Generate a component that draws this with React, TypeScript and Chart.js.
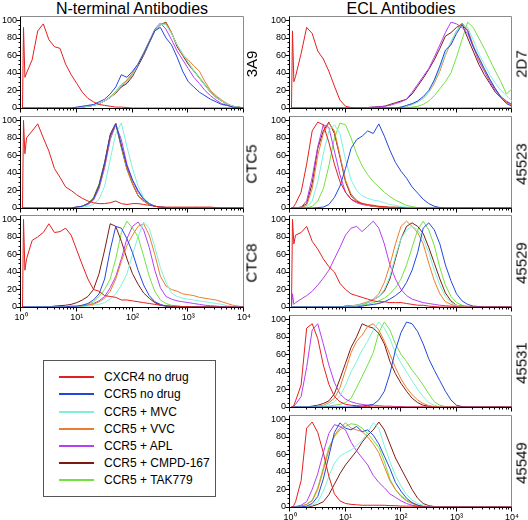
import React, { useEffect, useRef } from "react";
import { Chart, registerables } from "chart.js";

Chart.register(...registerables);

const FONT = '"Liberation Sans", Arial, Helvetica, sans-serif';

// x positions in log10 units (10^0 .. 10^4)
const LOG_X = [0.027, 0.045, 0.07, 0.1, 0.2, 0.3, 0.4, 0.5, 0.6, 0.7, 0.8, 0.9, 1, 1.1, 1.2, 1.3, 1.4, 1.5, 1.6, 1.7, 1.8, 1.9, 2, 2.1, 2.2, 2.3, 2.4, 2.5, 2.6, 2.7, 2.8, 2.9, 3, 3.1, 3.2, 3.3, 3.4, 3.5, 3.6, 3.7, 3.8, 3.9, 4];

const SERIES_NAMES = ["CXCR4 no drug", "CCR5 no drug", "CCR5 + MVC", "CCR5 + VVC", "CCR5 + APL", "CCR5 + CMPD-167", "CCR5 + TAK779"];
const SERIES_COLORS = ["#e3201f", "#2347de", "#7cf2dc", "#ec7d2c", "#b53ff2", "#7b1b12", "#72e23e"];

const X_TICK_VALUES = [0, 1, 2, 3, 4];
const X_TICK_LABELS = ["10\u2070", "10\u00b9", "10\u00b2", "10\u00b3", "10\u2074"];
const Y_TICK_VALUES = [0, 20, 40, 60, 80, 100];
const Y_MINOR_STEP = 5;
const Y_MAX = 105;

const COLUMN_TITLES = ["N-terminal Antibodies", "ECL Antibodies"];
const LEFT_PANEL_NAMES = ["3A9", "CTC5", "CTC8"];
const RIGHT_PANEL_NAMES = ["2D7", "45523", "45529", "45531", "45549"];

// series order: CXCR4, CCR5, MVC, VVC, APL, CMPD-167, TAK779
const H_3A9 = [
  [0, 92, 35, 40, 55, 88, 96, 78, 70, 68, 50, 38, 28, 18, 11, 7, 4, 3, 2, 1, 1, 0.5],
  [0, 0, 0, 0, 0, 0, 0, 0, 0, 0, 0, 0, 1, 2, 3, 4, 7, 10, 16, 24, 38, 35, 42, 50, 62, 75, 88, 92, 80, 72, 58, 42, 30, 24, 18, 14, 10, 7, 4, 3, 1, 0.5],
  [0, 0, 0, 0, 0, 0, 0, 0, 0, 0, 0, 0, 0.5, 1, 2, 3, 5, 8, 12, 18, 26, 30, 38, 50, 62, 75, 88, 96, 95, 85, 72, 62, 52, 42, 34, 26, 18, 12, 8, 4, 2, 1],
  [0, 0, 0, 0, 0, 0, 0, 0, 0, 0, 0, 0, 0.5, 1, 2, 3, 5, 8, 12, 18, 26, 32, 40, 50, 63, 76, 88, 95, 97, 86, 72, 60, 55, 48, 42, 30, 20, 14, 9, 5, 2, 1],
  [0, 0, 0, 0, 0, 0, 0, 0, 0, 0, 0, 0, 0.5, 1, 2, 3, 5, 8, 12, 18, 25, 30, 38, 50, 62, 76, 90, 97, 90, 78, 65, 55, 45, 35, 28, 20, 14, 9, 5, 3, 1, 0.5],
  [0, 0, 0, 0, 0, 0, 0, 0, 0, 0, 0, 0, 0.5, 1, 2, 3, 5, 8, 12, 17, 24, 28, 36, 48, 60, 74, 88, 95, 98, 86, 70, 60, 50, 42, 34, 26, 18, 12, 8, 4, 2, 1],
  [0, 0, 0, 0, 0, 0, 0, 0, 0, 0, 0, 0, 0.5, 1, 2, 3, 5, 8, 13, 19, 27, 31, 39, 51, 63, 76, 89, 96, 96, 85, 72, 62, 52, 43, 35, 27, 19, 13, 8, 4, 2, 1],
];

const H_CTC5 = [
  [0, 100, 62, 80, 88, 96, 80, 65, 45, 35, 24, 20, 15, 11, 8, 6, 5, 5, 6, 8, 5, 4, 5, 5, 4, 3, 2, 1, 1, 1, 1, 1, 1, 1, 1, 1, 1, 0.5],
  [0, 0, 0, 0, 0, 0, 0, 0, 0, 0, 0, 0, 1, 2, 5, 10, 25, 50, 82, 96, 72, 48, 32, 20, 10, 5, 2, 1, 0.5],
  [0, 0, 0, 0, 0, 0, 0, 0, 0, 0, 0, 0, 0.5, 1, 2, 4, 10, 25, 55, 85, 97, 70, 45, 25, 12, 5, 2, 1, 0.5],
  [0, 0, 0, 0, 0, 0, 0, 0, 0, 0, 0, 0, 1, 2, 5, 10, 24, 48, 80, 97, 70, 44, 28, 14, 8, 4, 2, 1, 0.5],
  [0, 0, 0, 0, 0, 0, 0, 0, 0, 0, 0, 0, 1, 2, 4, 9, 22, 46, 78, 95, 78, 50, 32, 18, 10, 5, 2, 1, 0.5],
  [0, 0, 0, 0, 0, 0, 0, 0, 0, 0, 0, 0, 1, 2, 5, 11, 26, 52, 84, 97, 70, 45, 28, 14, 8, 4, 2, 1, 0.5],
  [0, 0, 0, 0, 0, 0, 0, 0, 0, 0, 0, 0, 1, 2, 5, 12, 28, 52, 82, 95, 68, 44, 27, 14, 8, 4, 2, 1, 0.5],
];

const H_CTC8 = [
  [0, 100, 42, 55, 76, 80, 85, 95, 85, 86, 90, 82, 65, 48, 32, 20, 18, 13, 12, 11, 8, 8, 7, 6, 5, 4, 3, 2, 1.5, 1, 1, 0.5, 0.5],
  [0, 0, 0, 0, 0, 0, 0, 0, 0, 0, 0, 1, 1, 2, 4, 8, 15, 32, 65, 92, 90, 78, 62, 42, 25, 13, 6, 3, 1, 0.5],
  [0, 0, 0, 0, 0, 0, 0, 0, 0, 0, 0, 0, 0, 0, 1, 2, 3, 5, 9, 15, 25, 38, 60, 80, 97, 90, 68, 45, 28, 16, 12, 10, 9, 8, 7, 6, 5, 4, 3, 1.5, 1, 0.5],
  [0, 0, 0, 0, 0, 0, 0, 0, 0, 0, 0, 0, 0, 1, 2, 3, 6, 10, 18, 32, 52, 70, 82, 92, 95, 82, 60, 35, 24, 20, 18, 15, 14, 13, 11, 10, 9, 8, 6, 4, 2, 1],
  [0, 0, 0, 0, 0, 0, 0, 0, 0, 0, 0, 0, 0.5, 1, 2, 4, 7, 12, 22, 35, 55, 78, 92, 97, 88, 68, 42, 22, 12, 9, 7, 6, 5, 4, 3, 2, 1.5, 1, 0.5],
  [0, 0, 0, 0, 0, 0, 0, 0, 1, 1.5, 2, 3, 5, 8, 12, 20, 38, 65, 95, 92, 75, 55, 38, 26, 16, 10, 5, 2, 1, 0.5],
  [0, 0, 0, 0, 0, 0, 0, 0, 0, 0, 0, 0, 1, 2, 3, 6, 12, 20, 32, 55, 85, 98, 90, 80, 58, 35, 18, 8, 4, 2, 1, 0.5],
];

const H_2D7 = [
  [0, 88, 30, 36, 62, 92, 85, 65, 56, 42, 25, 9, 2, 0.5],
  [0, 0, 0, 0, 0, 0, 0, 0, 0, 0, 0, 0, 0, 0, 0, 0, 0, 0, 0, 0, 0, 0, 1, 3, 5, 8, 13, 20, 32, 48, 66, 72, 85, 95, 88, 70, 58, 45, 33, 22, 12, 5, 2],
  [0, 0, 0, 0, 0, 0, 0, 0, 0, 0, 0, 0, 0, 0, 0, 0, 0, 0, 0, 0, 0, 0, 1, 2, 4, 7, 11, 18, 30, 45, 62, 76, 88, 95, 92, 78, 62, 50, 38, 28, 20, 14, 8],
  [0, 0, 0, 0, 0, 0, 0, 0, 0, 0, 0, 0, 0, 0, 0, 0, 0, 0, 0, 0, 0, 0, 1, 2, 4, 7, 11, 18, 28, 42, 60, 75, 88, 97, 90, 72, 56, 44, 32, 22, 13, 6, 3],
  [0, 0, 0, 0, 0, 0, 0, 0, 0, 0, 0, 0, 0, 0, 0, 0, 0.5, 1, 1, 2, 3, 5, 7, 10, 18, 27, 36, 45, 58, 72, 86, 98, 96, 92, 85, 70, 54, 42, 30, 20, 13, 8, 4],
  [0, 0, 0, 0, 0, 0, 0, 0, 0, 0, 0, 0, 0, 0, 0, 0, 0.5, 1, 1.5, 2, 4, 6, 8, 10, 16, 25, 34, 44, 55, 68, 82, 86, 92, 96, 80, 65, 50, 38, 28, 18, 12, 7, 4],
  [0, 0, 0, 0, 0, 0, 0, 0, 0, 0, 0, 0, 0, 0, 0, 0, 0, 0, 0, 0, 0, 0, 0, 0, 1, 2, 4, 8, 14, 22, 30, 40, 58, 78, 98, 92, 80, 68, 55, 42, 30, 16, 22],
];

const H_45523 = [
  [0, 0, 2, 5, 18, 50, 88, 98, 95, 75, 50, 30, 18, 10, 7, 5, 4, 3, 2, 1.5, 1, 1, 0.5],
  [0, 0, 0, 0, 0, 0, 0, 0.5, 1, 4, 12, 25, 45, 68, 78, 82, 88, 85, 96, 82, 66, 52, 42, 34, 24, 17, 10, 5, 2, 0.5],
  [0, 0, 0, 0, 0, 1, 8, 30, 62, 88, 95, 85, 55, 32, 20, 14, 11, 9, 8, 6, 4, 3, 1.5, 1, 0.5],
  [0, 0, 0, 0, 0.5, 3, 22, 60, 85, 97, 88, 60, 32, 16, 9, 5, 3, 2, 1.5, 1, 0.5],
  [0, 0, 0, 0, 1, 8, 35, 70, 95, 92, 65, 38, 18, 10, 6, 4, 3, 2, 1, 0.5],
  [0, 0, 0, 0, 1, 5, 28, 68, 88, 98, 85, 58, 30, 14, 8, 5, 3, 2, 1.5, 1, 0.5],
  [0, 0, 0, 0, 0, 0, 2, 8, 22, 48, 80, 97, 95, 80, 62, 48, 38, 30, 24, 18, 13, 9, 6, 3, 1.5, 0.5],
];

const H_45529 = [
  [0, 100, 72, 82, 85, 92, 75, 66, 55, 46, 40, 27, 20, 15, 13, 11, 9, 7, 6, 6, 5, 5, 5, 4, 3, 2, 2, 1, 0.5],
  [0, 0, 0, 0, 0, 0, 0, 0, 0, 0, 0, 0, 0, 0, 0, 1, 2, 3, 4, 6, 9, 13, 18, 28, 42, 62, 90, 96, 88, 72, 48, 30, 15, 7, 3, 1, 0.5],
  [0, 0, 0, 0, 0, 0, 0, 0, 0, 0, 0, 0, 0.5, 1, 2, 3, 5, 8, 12, 20, 35, 58, 78, 88, 92, 88, 78, 62, 42, 25, 12, 5, 2, 0.5],
  [0, 0, 0, 0, 0, 0, 0, 0, 0, 0, 0, 0, 1, 1.5, 2, 4, 6, 9, 15, 28, 48, 72, 92, 98, 92, 85, 72, 50, 30, 15, 6, 3, 1, 0.5],
  [0, 15, 3, 5, 9, 13, 18, 25, 33, 42, 55, 68, 82, 90, 92, 86, 92, 98, 90, 72, 48, 32, 20, 13, 9, 7, 5, 4, 3, 2, 1.5, 1, 0.5],
  [0, 0, 0, 0, 0, 0, 0, 0, 0, 0, 0, 0, 1, 1.5, 2, 3, 5, 8, 12, 18, 32, 55, 78, 92, 96, 92, 84, 68, 50, 32, 16, 7, 2, 1],
  [0, 0, 0, 0, 0, 0, 0, 0, 0, 0, 0, 0, 0, 0, 1, 2, 3, 5, 7, 10, 15, 22, 32, 48, 68, 88, 98, 88, 70, 45, 25, 12, 5, 2, 1],
];

const H_45531 = [
  [0, 0, 2, 7, 25, 90, 95, 78, 48, 26, 12, 6, 3, 2, 1.5, 1, 0.5],
  [0, 0, 0, 0, 0, 0, 0, 0, 0, 0, 0, 0, 0, 0, 0.5, 1, 2, 3, 8, 18, 38, 65, 85, 97, 95, 86, 72, 55, 42, 30, 18, 8, 2, 0.5],
  [0, 0, 0, 0, 0, 0, 0, 0.5, 1, 3, 6, 12, 25, 40, 52, 65, 75, 88, 97, 90, 78, 62, 50, 40, 30, 20, 12, 5, 2, 0.5],
  [0, 0, 0, 0, 0, 0, 0, 1, 2, 5, 10, 22, 42, 62, 75, 82, 92, 95, 88, 75, 60, 45, 32, 22, 14, 8, 4, 1.5, 0.5],
  [0, 0, 1, 3, 12, 45, 88, 95, 72, 48, 28, 15, 9, 6, 4, 3, 2, 2, 1.5, 1, 1, 0.5, 0.5],
  [0, 0, 0, 0, 0, 0, 1, 2, 4, 7, 15, 32, 50, 68, 80, 95, 92, 90, 84, 72, 52, 38, 27, 18, 10, 5, 2, 1],
  [0, 0, 0, 0, 0, 0, 0, 0, 0, 1, 2, 3, 5, 10, 22, 35, 48, 62, 85, 97, 88, 72, 60, 52, 42, 34, 25, 15, 6, 2, 0.5],
];

const H_45549 = [
  [0, 0, 2, 6, 30, 90, 97, 85, 62, 35, 15, 7, 4, 3, 2.5, 2, 2, 2, 2, 2, 1.5, 1.5, 1, 1, 1, 0.5],
  [0, 0, 0, 0, 0, 1, 4, 12, 32, 58, 85, 96, 90, 88, 92, 86, 88, 82, 72, 58, 44, 28, 18, 10, 5, 2, 0.5],
  [0, 0, 0, 0, 0, 0.5, 2, 6, 18, 35, 50, 58, 62, 65, 70, 76, 85, 96, 90, 70, 52, 36, 24, 14, 8, 4, 2, 0.5],
  [0, 0, 0, 0, 1, 3, 7, 20, 42, 65, 82, 90, 96, 90, 88, 86, 80, 72, 62, 46, 30, 20, 12, 7, 4, 2, 0.5],
  [0, 0, 0, 0.5, 2, 6, 20, 38, 62, 84, 94, 92, 88, 74, 64, 56, 48, 36, 28, 22, 15, 11, 7, 4, 2, 1, 0.5],
  [0, 0, 0, 0, 0, 0, 1, 3, 6, 14, 26, 38, 48, 56, 64, 74, 82, 88, 97, 88, 72, 56, 44, 32, 20, 10, 4, 1.5, 0.5],
  [0, 0, 0, 0, 1, 3, 8, 22, 45, 68, 80, 88, 92, 95, 94, 90, 84, 76, 68, 52, 32, 20, 13, 8, 5, 2, 1],
];

const LEFT_PANELS = [H_3A9, H_CTC5, H_CTC8];
const RIGHT_PANELS = [H_2D7, H_45523, H_45529, H_45531, H_45549];

// layout (pixels)
const LEFT_COL = { plotLeft: 21, plotRight: 244, labelX: 251, titleX: 132 };
const RIGHT_COL = { plotLeft: 290, plotRight: 512, labelX: 521, titleX: 401 };
const LEFT_ZERO_Y = [108, 208, 307];
const RIGHT_ZERO_Y = [108, 208, 307, 407, 507];
const PLOT_H = 92;
const YAXIS_W = 21;
const PAD_T = 6;
const PAD_R = 8;

const axisFramePlugin = {
  id: "axisFrame",
  beforeDatasetsDraw(chart: any) {
    const { ctx, chartArea: a } = chart;
    const xs = chart.scales.x;
    const ys = chart.scales.y;
    const ax = Math.round(a.left) - 0.5;
    const by = Math.round(a.bottom) + 0.5;
    const ty = Math.round(a.top) + 0.5;
    const rx = Math.round(a.right) - 0.5;
    ctx.save();
    ctx.lineWidth = 1;
    ctx.strokeStyle = "#8c8c8c";
    ctx.beginPath();
    ctx.moveTo(ax, ty);
    ctx.lineTo(rx, ty);
    ctx.lineTo(rx, by);
    ctx.stroke();
    ctx.strokeStyle = "#000";
    ctx.beginPath();
    ctx.moveTo(ax, ty);
    ctx.lineTo(ax, by);
    ctx.lineTo(rx, by);
    for (let v = 0; v <= 100; v += Y_MINOR_STEP) {
      const py = Math.round(ys.getPixelForValue(v)) + 0.5;
      const len = v % 20 === 0 ? 4 : 2;
      ctx.moveTo(ax - len, py);
      ctx.lineTo(ax, py);
    }
    for (let d = 0; d <= 4; d++) {
      for (let k = 1; k <= 9; k++) {
        if (d === 4 && k > 1) break;
        const px = Math.round(xs.getPixelForValue(d + Math.log10(k))) - 0.5;
        const len = k === 1 ? 4 : 2;
        ctx.moveTo(px, by);
        ctx.lineTo(px, by + len);
      }
    }
    ctx.stroke();
    ctx.restore();
  },
};

type PanelProps = {
  series: number[][];
  name: string;
  plotLeft: number;
  plotRight: number;
  zeroY: number;
  labelX: number;
  showX: boolean;
};

function Panel({ series, name, plotLeft, plotRight, zeroY, labelX, showX }: PanelProps) {
  const ref = useRef<HTMLCanvasElement>(null);
  const xh = showX ? 18 : 6;
  const left = plotLeft - YAXIS_W;
  const top = zeroY - PLOT_H - PAD_T;
  const width = plotRight - left + PAD_R;
  const height = PAD_T + PLOT_H + xh;

  useEffect(() => {
    const chart = new Chart(ref.current as HTMLCanvasElement, {
      type: "line",
      data: {
        datasets: series.map((vals, si) => ({
          label: SERIES_NAMES[si],
          data: LOG_X.map((x, i) => ({ x, y: vals[i] ?? 0 })),
          borderColor: SERIES_COLORS[si],
          backgroundColor: SERIES_COLORS[si],
          borderWidth: 1,
          pointRadius: 0,
          tension: 0,
          fill: false,
        })),
      },
      options: {
        responsive: false,
        animation: false,
        events: [],
        layout: { padding: { top: PAD_T, right: PAD_R, left: 0, bottom: 0 } },
        plugins: { legend: { display: false }, tooltip: { enabled: false } },
        scales: {
          x: {
            type: "linear",
            min: 0,
            max: 4,
            afterFit: (s: any) => {
              s.height = xh;
            },
            afterBuildTicks: (s: any) => {
              s.ticks = X_TICK_VALUES.map((value) => ({ value }));
            },
            ticks: {
              display: showX,
              autoSkip: false,
              maxRotation: 0,
              padding: 1,
              color: "#000",
              font: { size: 9, family: FONT },
              callback: (v: any) => X_TICK_LABELS[Math.round(Number(v))],
            },
            grid: { display: false, drawTicks: true, tickLength: 4 },
            border: { display: false },
          },
          y: {
            min: 0,
            max: Y_MAX,
            afterFit: (s: any) => {
              s.width = YAXIS_W;
            },
            afterBuildTicks: (s: any) => {
              s.ticks = Y_TICK_VALUES.map((value) => ({ value }));
            },
            ticks: {
              autoSkip: false,
              padding: 0,
              color: "#000",
              font: { size: 9, family: FONT },
            },
            grid: { display: false, drawTicks: true, tickLength: 4 },
            border: { display: false },
          },
        },
      } as any,
      plugins: [axisFramePlugin],
    });
    return () => chart.destroy();
  }, []);

  return (
    <>
      <canvas
        ref={ref}
        width={width}
        height={height}
        style={{ position: "absolute", left, top, width, height }}
      />
      <div
        style={{
          position: "absolute",
          left: labelX,
          top: zeroY - 44,
          transform: "translate(-50%, -50%) rotate(-90deg)",
          font: `15px ${FONT}`,
          lineHeight: "15px",
          whiteSpace: "nowrap",
          color: "#000",
        }}
      >
        {name}
      </div>
    </>
  );
}

function Legend() {
  const rowYs = [377, 394, 411.5, 429, 446, 463, 480];
  return (
    <div
      style={{
        position: "absolute",
        left: 43,
        top: 360,
        width: 171,
        height: 135,
        border: "1px solid #555",
        background: "#fff",
      }}
    >
      {SERIES_NAMES.map((n, i) => (
        <div key={n}>
          <div
            style={{
              position: "absolute",
              left: 15,
              top: rowYs[i] - 361 - 1,
              width: 35,
              height: 2,
              background: SERIES_COLORS[i],
            }}
          />
          <div
            style={{
              position: "absolute",
              left: 60,
              top: rowYs[i] - 361 - 8,
              font: `12px ${FONT}`,
              lineHeight: "16px",
              whiteSpace: "nowrap",
              color: "#000",
            }}
          >
            {n}
          </div>
        </div>
      ))}
    </div>
  );
}

export default function App() {
  return (
    <div
      style={{
        position: "absolute",
        left: 0,
        top: 0,
        width: 528,
        height: 520,
        background: "#fff",
        overflow: "hidden",
      }}
    >
      {[LEFT_COL, RIGHT_COL].map((col, ci) => (
        <div
          key={ci}
          style={{
            position: "absolute",
            left: col.titleX,
            top: 1,
            transform: "translateX(-50%)",
            font: `16px ${FONT}`,
            lineHeight: "16px",
            whiteSpace: "nowrap",
            color: "#000",
          }}
        >
          {COLUMN_TITLES[ci]}
        </div>
      ))}
      {LEFT_PANELS.map((s, i) => (
        <Panel
          key={"l" + i}
          series={s}
          name={LEFT_PANEL_NAMES[i]}
          plotLeft={LEFT_COL.plotLeft}
          plotRight={LEFT_COL.plotRight}
          zeroY={LEFT_ZERO_Y[i]}
          labelX={LEFT_COL.labelX}
          showX={i === LEFT_PANELS.length - 1}
        />
      ))}
      {RIGHT_PANELS.map((s, i) => (
        <Panel
          key={"r" + i}
          series={s}
          name={RIGHT_PANEL_NAMES[i]}
          plotLeft={RIGHT_COL.plotLeft}
          plotRight={RIGHT_COL.plotRight}
          zeroY={RIGHT_ZERO_Y[i]}
          labelX={RIGHT_COL.labelX}
          showX={i === RIGHT_PANELS.length - 1}
        />
      ))}
      <Legend />
    </div>
  );
}
